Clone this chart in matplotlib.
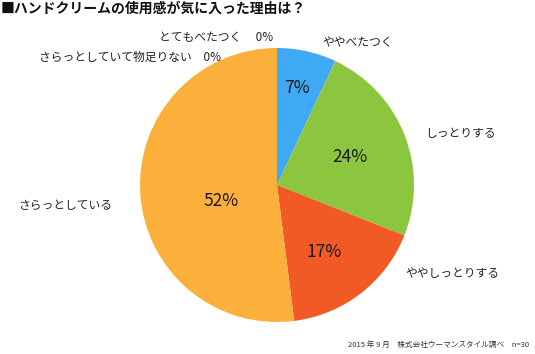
import matplotlib.pyplot as plt

plt.rcParams['font.family'] = ['Noto Sans CJK JP', 'DejaVu Sans']

# data
categories = ["ややべたつく", "しっとりする", "ややしっとりする", "さらっとしている",
              "さらっとしていて物足りない", "とてもべたつく"]
shares = [7, 24, 17, 52, 0, 0]
colors = ["#3fa9f5", "#8cc63f", "#f15a24", "#fbb03b", "#fbb03b", "#fbb03b"]

W, H = 535, 354
fig = plt.figure(figsize=(W / 100, H / 100), dpi=100)

# pie centred at (277, 185) px, radius 137 px
cx, cy, r = 277, 185, 137
ax = fig.add_axes([(cx - r) / W, (H - cy - r) / H, 2 * r / W, 2 * r / H])
ax.pie(shares, colors=colors, startangle=90, counterclock=False,
       wedgeprops=dict(linewidth=0), radius=1)
ax.set_xlim(-1, 1)
ax.set_ylim(-1, 1)
ax.set_aspect("equal")
ax.axis("off")

def px(x, y):
    return x / W, 1 - y / H

# percentages inside the slices (pixel positions of label centres)
pct_pos = [(297, 88), (350, 157), (324, 252), (221, 201)]
for (x, y), v in zip(pct_pos, shares[:4]):
    fig.text(*px(x, y), f"{v}%", fontsize=12.5, ha="center", va="center",
             color="#1a1a1a")

# category labels outside
lab_pos = [(322, 43, "left"), (425, 133, "left"), (405, 274, "left"),
           (18, 205, "left")]
for (x, y, ha), name in zip(lab_pos, categories[:4]):
    fig.text(*px(x, y), name, fontsize=8.5, ha=ha, va="center", color="#222222")

zero_pos = [(221, 57), (273, 38)]
zero_gap = ["　", "　 "]
for (x, y), name, v, gap in zip(zero_pos, categories[4:], shares[4:], zero_gap):
    fig.text(*px(x, y), f"{name}{gap}{v}%", fontsize=8.5, ha="right", va="center",
             color="#222222")

fig.text(*px(1, 9), "■ハンドクリームの使用感が気に入った理由は？", fontsize=10,
         fontweight="bold", ha="left", va="center", color="#111111")
fig.text(*px(529, 345), "2015 年 9 月　株式会社ウーマンスタイル調べ　n=30",
         fontsize=5.5, ha="right", va="center", color="#333333")

fig.savefig("out.png", dpi=100)
